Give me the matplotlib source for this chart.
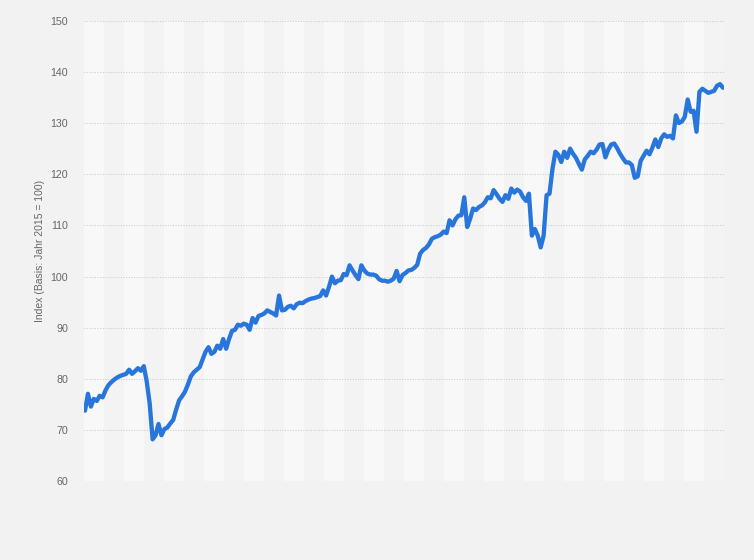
import matplotlib
matplotlib.use("Agg")
import matplotlib.pyplot as plt
from matplotlib.patches import Rectangle
import numpy as np
import pandas as pd

# Monthly index values (Basis: Jahr 2015 = 100)
values = [
    73.8, 77.1, 74.6, 76.1, 75.7, 76.7, 76.4, 77.8, 78.8, 79.4,
    79.9, 80.3, 80.6, 80.8, 81.0, 81.8, 81.0, 81.5, 82.1, 81.6,
    82.5, 79.5, 75.2, 68.2, 69.0, 71.2, 69.0, 70.2, 70.5, 71.3,
    72.0, 74.0, 75.8, 76.6, 77.5, 78.9, 80.5, 81.3, 81.8, 82.3,
    83.8, 85.3, 86.2, 84.9, 85.3, 86.5, 85.9, 87.8, 85.9, 87.8,
    89.4, 89.6, 90.6, 90.4, 90.8, 90.6, 89.6, 91.9, 91.0, 92.3,
    92.5, 92.8, 93.4, 93.1, 92.8, 92.4, 96.3, 93.4, 93.5, 94.1,
    94.3, 93.8, 94.6, 94.9, 94.8, 95.2, 95.5, 95.7, 95.8, 96.0,
    96.2, 97.3, 96.3, 98.0, 100.0, 98.7, 99.2, 99.3, 100.5, 100.3,
    102.2, 101.2, 100.3, 99.5, 102.2, 101.2, 100.6, 100.4, 100.4, 100.2,
    99.5, 99.2, 99.2, 99.0, 99.2, 99.6, 101.1, 99.1, 100.3, 100.7,
    101.2, 101.3, 101.7, 102.3, 104.5, 105.2, 105.6, 106.3, 107.4, 107.7,
    107.9, 108.2, 108.8, 108.5, 111.0, 110.0, 111.2, 111.9, 112.0, 115.5,
    109.7, 111.3, 113.3, 113.0, 113.6, 113.9, 114.5, 115.5, 115.3, 116.9,
    116.1, 115.2, 114.6, 115.9, 115.2, 117.2, 116.4, 117.0, 116.6, 115.5,
    114.8, 116.2, 108.0, 109.3, 108.0, 105.7, 108.0, 115.9, 116.2, 121.0,
    124.4, 123.8, 122.4, 124.4, 123.2, 125.0, 124.0, 123.2, 122.0, 120.9,
    122.9, 123.6, 124.4, 124.1, 124.8, 125.8, 125.9, 123.3, 124.8, 125.8,
    126.0, 125.1, 124.0, 123.1, 122.3, 122.3, 121.8, 119.3, 119.6, 122.6,
    123.6, 124.6, 123.9, 125.2, 126.8, 125.3, 127.0, 127.8, 127.3, 127.5,
    127.0, 131.5, 130.0, 130.3, 131.2, 134.6, 132.2, 132.4, 128.3, 136.1,
    136.7, 136.3, 135.9, 136.1, 136.3, 137.3, 137.6, 136.9,
]
months = pd.date_range("2007-05-01", periods=len(values), freq="MS")
y_ticks = [60, 70, 80, 90, 100, 110, 120, 130, 140, 150]
y_label = "Index (Basis: Jahr 2015 = 100)"

plt.rcParams["font.family"] = ["Liberation Sans", "DejaVu Sans"]

fig = plt.figure(figsize=(7.54, 5.60), dpi=100, facecolor="#f2f2f2")
ax = fig.add_axes([84 / 754, 1 - 481.3 / 560, 640 / 754, (481.3 - 20.7) / 560])
ax.set_facecolor("#f3f3f3")

# alternating vertical bands
n_bands = 32
for i in range(0, n_bands, 2):
    ax.add_patch(Rectangle((i / n_bands, 0), 1 / n_bands, 1,
                           transform=ax.transAxes, facecolor="#f8f8f8",
                           edgecolor="none", zorder=0))

x = np.arange(len(months))
ax.plot(x, values, color="#2876dc", lw=3.1, solid_capstyle="round",
        solid_joinstyle="round", zorder=3)

ax.set_xlim(-0.34, len(values) - 1 + 0.35)
ax.set_ylim(60, 150)
ax.set_yticks(y_ticks)
ax.set_yticklabels([str(t) for t in y_ticks])
ax.set_xticks([])
ax.tick_params(axis="y", length=0, pad=11.5, labelsize=7.7, labelcolor="#666666")
ax.grid(axis="y", color="#cccccc", lw=0.75, linestyle=(0, (1, 1.5)), zorder=1)
ax.set_axisbelow(True)
for s in ax.spines.values():
    s.set_visible(False)

fig.text(40.5 / 754, 1 - 251 / 560, y_label, rotation=90, ha="center", va="center",
         fontsize=7.5, color="#666666")

fig.savefig("out.png", dpi=100, facecolor=fig.get_facecolor())
